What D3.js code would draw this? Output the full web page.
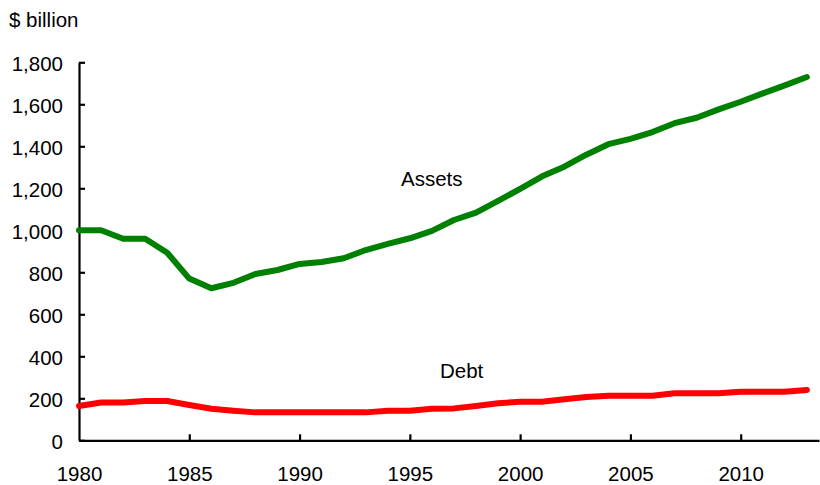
<!DOCTYPE html>
<html>
<head>
<meta charset="utf-8">
<script src="https://cdn.jsdelivr.net/npm/d3@7"></script>
<style>
  html, body { margin: 0; padding: 0; background: #fff; }
  svg { display: block; font-family: "Liberation Sans", Arial, sans-serif; }
</style>
</head>
<body>
<svg id="chart" width="820" height="485"></svg>
<script>
const years = d3.range(1980, 2014);
const assets = [1000, 1000, 960, 960, 893, 770, 724, 750, 792, 811,
                840, 849, 867, 906, 935, 962, 997, 1049, 1084, 1140,
                1197, 1257, 1303, 1360, 1410, 1435, 1468, 1510, 1536, 1576,
                1612, 1652, 1690, 1730];
const debt = [163, 180, 180, 187, 187, 168, 150, 141, 133, 133,
              133, 133, 133, 133, 141, 141, 150, 152, 163, 176,
              184, 184, 195, 206, 212, 212, 212, 224, 224, 224,
              231, 231, 231, 240];
const xTicks = [1980, 1985, 1990, 1995, 2000, 2005, 2010];
const yTicks = [0, 200, 400, 600, 800, 1000, 1200, 1400, 1600, 1800];
const seriesLabels = ["Assets", "Debt"];
const unitLabel = "$ billion";

const svg = d3.select("#chart");
const fontSize = 20.5;

const x = d3.scaleLinear().domain([1980, 2013.55]).range([79, 819]);
const y = d3.scaleLinear().domain([0, 1800]).range([440.3, 62.3]);

// Y axis
const yAxis = svg.append("g")
  .attr("transform", `translate(${x(1980)},0)`)
  .call(d3.axisLeft(y).tickValues(yTicks).tickSize(-6).tickSizeOuter(0)
        .tickPadding(16).tickFormat(d3.format(",")));
yAxis.select(".domain").attr("stroke", "#000").attr("stroke-width", 2.2);
yAxis.selectAll(".tick line").attr("stroke", "#000").attr("stroke-width", 2.2);
yAxis.selectAll(".tick text").attr("font-size", fontSize).attr("fill", "#000")
  .attr("font-family", "Liberation Sans, Arial, sans-serif").attr("dy", "0.42em");

// X axis
const xAxis = svg.append("g")
  .attr("transform", `translate(0,${y(0)})`)
  .call(d3.axisBottom(x).tickValues(xTicks).tickSize(-6).tickSizeOuter(0)
        .tickPadding(26).tickFormat(d3.format("d")));
xAxis.select(".domain").attr("stroke", "#000").attr("stroke-width", 2.2);
xAxis.selectAll(".tick line").attr("stroke", "#000").attr("stroke-width", 2.2);
xAxis.selectAll(".tick text").attr("font-size", fontSize).attr("fill", "#000")
  .attr("font-family", "Liberation Sans, Arial, sans-serif");
// hide tick mark at the origin
xAxis.selectAll(".tick").filter(d => d === 1980).select("line").remove();

// Lines
const line = d3.line().x((d, i) => x(years[i])).y(d => y(d));
svg.append("path").datum(debt).attr("d", line)
  .attr("fill", "none").attr("stroke", "#ff0000").attr("stroke-width", 6)
  .attr("stroke-linejoin", "round").attr("stroke-linecap", "round");
svg.append("path").datum(assets).attr("d", line)
  .attr("fill", "none").attr("stroke", "#008000").attr("stroke-width", 6)
  .attr("stroke-linejoin", "round").attr("stroke-linecap", "round");

// Labels
svg.append("text").attr("x", 9).attr("y", 27).attr("font-size", fontSize)
  .attr("fill", "#000").text(unitLabel);
svg.append("text").attr("x", 401).attr("y", 186).attr("font-size", fontSize)
  .attr("fill", "#000").text(seriesLabels[0]);
svg.append("text").attr("x", 440).attr("y", 378).attr("font-size", fontSize)
  .attr("fill", "#000").text(seriesLabels[1]);
</script>
</body>
</html>
